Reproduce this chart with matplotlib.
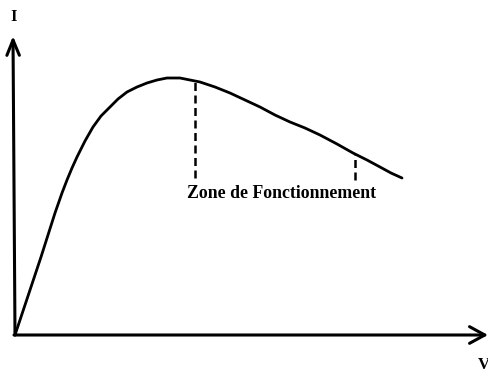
import matplotlib
matplotlib.use("Agg")
import matplotlib.pyplot as plt

# Curve I(V), arbitrary units
V = [0, 26, 40, 47, 52, 57, 62, 70, 78, 86, 95, 103, 112, 122, 132, 142, 152, 165, 175, 185, 200, 215, 230,
     245, 260, 275, 290, 305, 322, 338, 352, 365, 376, 387]
I = [0, 78, 122, 142, 155, 167, 178, 194, 208, 219, 228, 236, 243, 248, 252, 255, 257, 257, 255, 253, 248, 242, 235,
     228, 220, 213, 207, 200, 191, 182, 175, 168, 162, 157]

# Dashed markers of the operating zone
zone_V = [180, 340]
zone_top = [253, 181]
zone_bottom = [157, 155]

label_text = "Zone de Fonctionnement"
x_label = "V"
y_label = "I"

fig = plt.figure(figsize=(4.89, 3.74), dpi=100)
ax = fig.add_axes([0, 0, 1, 1])
ax.set_xlim(-15, 474)
ax.set_ylim(-39, 335)
ax.axis("off")

ax.plot(V, I, color="black", lw=2.0, solid_capstyle="round", solid_joinstyle="round")

for v, t, b in zip(zone_V, zone_top, zone_bottom):
    ax.plot([v, v], [b, t], color="black", lw=1.8, ls=(0, (3.2, 1.8)))

# axes with arrows
ax.annotate("", xy=(-2, 299), xytext=(0, 0),
            arrowprops=dict(arrowstyle="->,head_length=1.1,head_width=0.45", lw=2.2, color="black",
                            shrinkA=0, shrinkB=0))
ax.annotate("", xy=(473, 0), xytext=(-1, 0),
            arrowprops=dict(arrowstyle="->,head_length=1.1,head_width=0.6", lw=2.2, color="black",
                            shrinkA=0, shrinkB=0))

ax.text(-1, 318, y_label, fontsize=12, fontweight="bold", family="Liberation Serif",
        ha="center", va="center")
ax.text(469, -30, x_label, fontsize=12, fontweight="bold", family="Liberation Serif",
        ha="center", va="center")

ax.text(267, 142, label_text, fontsize=12.8, fontweight="bold", family="Liberation Serif",
        ha="center", va="center")

fig.savefig("out.png", dpi=100)
